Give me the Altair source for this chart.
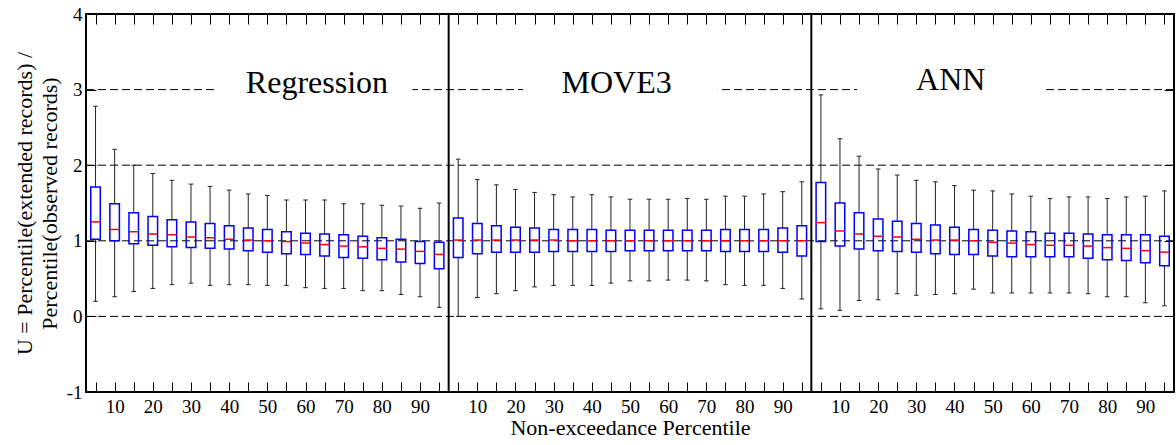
import altair as alt
import pandas as pd

percentiles = [5, 10, 15, 20, 25, 30, 35, 40, 45, 50, 55, 60, 65, 70, 75, 80, 85, 90, 95]
methods = ["Regression", "MOVE3", "ANN"]

# Regression
reg_high = [2.78, 2.21, 2.00, 1.89, 1.80, 1.75, 1.72, 1.67, 1.62, 1.60, 1.54, 1.54, 1.54, 1.49, 1.49, 1.47, 1.46, 1.43, 1.50]
reg_q3 = [1.71, 1.49, 1.37, 1.32, 1.28, 1.25, 1.23, 1.20, 1.17, 1.15, 1.12, 1.10, 1.09, 1.08, 1.06, 1.04, 1.02, 0.99, 0.98]
reg_med = [1.25, 1.15, 1.12, 1.09, 1.08, 1.05, 1.04, 1.02, 1.01, 1.00, 0.99, 0.97, 0.95, 0.93, 0.92, 0.90, 0.89, 0.86, 0.82]
reg_q1 = [1.02, 1.00, 0.96, 0.94, 0.92, 0.91, 0.90, 0.89, 0.87, 0.85, 0.83, 0.82, 0.80, 0.78, 0.77, 0.75, 0.72, 0.70, 0.63]
reg_low = [0.20, 0.26, 0.33, 0.37, 0.42, 0.44, 0.41, 0.42, 0.42, 0.41, 0.41, 0.38, 0.37, 0.37, 0.34, 0.34, 0.29, 0.26, 0.12]

# MOVE3
mov_high = [2.08, 1.81, 1.74, 1.68, 1.64, 1.61, 1.58, 1.61, 1.58, 1.55, 1.55, 1.55, 1.56, 1.55, 1.59, 1.59, 1.62, 1.65, 1.78]
mov_q3 = [1.30, 1.23, 1.20, 1.18, 1.17, 1.15, 1.15, 1.15, 1.14, 1.14, 1.14, 1.14, 1.14, 1.14, 1.15, 1.15, 1.15, 1.17, 1.20]
mov_med = [1.01, 1.01, 1.01, 1.01, 1.01, 1.01, 1.00, 1.00, 1.00, 1.00, 1.00, 1.00, 1.00, 1.00, 1.00, 1.00, 1.00, 1.00, 1.00]
mov_q1 = [0.78, 0.83, 0.85, 0.85, 0.85, 0.86, 0.86, 0.86, 0.86, 0.87, 0.87, 0.87, 0.87, 0.87, 0.86, 0.86, 0.86, 0.85, 0.80]
mov_low = [0.00, 0.25, 0.30, 0.34, 0.39, 0.41, 0.41, 0.41, 0.44, 0.47, 0.47, 0.48, 0.48, 0.47, 0.42, 0.41, 0.41, 0.37, 0.23]

# ANN
ann_high = [2.93, 2.35, 2.12, 1.95, 1.87, 1.80, 1.78, 1.73, 1.67, 1.66, 1.62, 1.59, 1.56, 1.58, 1.58, 1.56, 1.58, 1.59, 1.66]
ann_q3 = [1.77, 1.50, 1.37, 1.29, 1.26, 1.23, 1.21, 1.18, 1.15, 1.14, 1.13, 1.12, 1.10, 1.10, 1.09, 1.08, 1.08, 1.08, 1.06]
ann_med = [1.24, 1.13, 1.09, 1.06, 1.05, 1.02, 1.01, 1.01, 1.00, 0.98, 0.97, 0.95, 0.94, 0.94, 0.93, 0.91, 0.90, 0.87, 0.85]
ann_q1 = [0.99, 0.93, 0.89, 0.87, 0.86, 0.85, 0.83, 0.82, 0.82, 0.80, 0.79, 0.79, 0.79, 0.79, 0.77, 0.75, 0.74, 0.71, 0.67]
ann_low = [0.10, 0.08, 0.21, 0.22, 0.30, 0.28, 0.29, 0.30, 0.36, 0.31, 0.31, 0.31, 0.31, 0.31, 0.30, 0.26, 0.26, 0.18, 0.14]

grid_values = [0, 1, 2, 3]
panel_dividers = [19.5, 38.5]

# panel labels (position in the x index space of the plot, y in data units)
label_x = [12.6, 28.3, 45.8]
label_y = [2.96, 2.96, 3.0]
label_gap_left = [7.4, 23.4, 40.9]
label_gap_right = [17.6, 33.6, 50.8]
label_gap_low = [2.85, 2.85, 2.85]
label_gap_high = [3.2, 3.2, 3.2]

series = [
    (reg_low, reg_q1, reg_med, reg_q3, reg_high),
    (mov_low, mov_q1, mov_med, mov_q3, mov_high),
    (ann_low, ann_q1, ann_med, ann_q3, ann_high),
]
rows = []
for j, (m, (lo, q1, md, q3, hi)) in enumerate(zip(methods, series)):
    for i, p in enumerate(percentiles):
        rows.append(dict(method=m, pct=p, pos=j * 19 + i + 1,
                         low=lo[i], q1=q1[i], med=md[i], q3=q3[i], high=hi[i]))
df = pd.DataFrame(rows)

labels_df = pd.DataFrame(dict(text=methods, x=label_x, y=label_y,
                              gl=label_gap_left, gr=label_gap_right,
                              gb=label_gap_low, gt=label_gap_high))

FONT = "Liberation Serif"
xscale = alt.Scale(domain=[0.5, 57.5], nice=False, zero=False)
yscale = alt.Scale(domain=[-1, 4], nice=False, zero=False)
tick_positions = list(range(1, 58))
lab_expr = ("(((datum.value - 1) % 19 + 1) * 5) % 10 == 0 ? "
            "toString(((datum.value - 1) % 19 + 1) * 5) : ''")

x_bottom = alt.Axis(orient="bottom", values=tick_positions, labelExpr=lab_expr,
                    tickSize=10, offset=-10, domain=False, grid=False,
                    labelFont=FONT, labelFontSize=19, labelColor="black",
                    tickColor="black", tickWidth=1, labelPadding=5,
                    labelOverlap=False, labelFlush=False,
                    title="Non-exceedance Percentile", titleFont=FONT,
                    titleFontSize=22, titleFontWeight="normal", titleColor="black",
                    titlePadding=1)
x_top = alt.Axis(orient="top", values=tick_positions, labels=False, tickSize=10,
                 offset=-10, domain=False, grid=False, tickColor="black", title="")
y_left = alt.Axis(orient="left", values=[-1, 0, 1, 2, 3, 4], tickSize=10, offset=-10,
                  domain=False, grid=False, labelFont=FONT, labelFontSize=19,
                  labelExpr="toString(datum.value)",
                  labelColor="black", tickColor="black", labelPadding=4,
                  title=["U = Percentile(extended records) /", "Percentile(observed records)"],
                  titleFont=FONT, titleFontSize=22, titleFontWeight="normal",
                  titleColor="black", titleLineHeight=25, titlePadding=5)
y_right = alt.Axis(orient="right", values=[-1, 0, 1, 2, 3, 4], labels=False, tickSize=10,
                   offset=-10, domain=False, grid=False, tickColor="black", title="")

base = alt.Chart(df)

grid = alt.Chart(pd.DataFrame(dict(v=grid_values))).mark_rule(
    color="black", strokeWidth=1, strokeDash=[8, 4]
).encode(y=alt.Y("v:Q", scale=yscale, axis=None))

gaps = alt.Chart(labels_df).mark_rect(color="white").encode(
    x=alt.X("gl:Q", scale=xscale, axis=None), x2="gr:Q",
    y=alt.Y("gb:Q", scale=yscale, axis=None), y2="gt:Q"
)

whisk_lo = base.mark_rule(color="#222222", strokeWidth=1).encode(
    x=alt.X("pos:Q", scale=xscale, axis=x_bottom),
    y=alt.Y("low:Q", scale=yscale, axis=y_left), y2="q1:Q"
)
whisk_hi = base.mark_rule(color="#222222", strokeWidth=1).encode(
    x=alt.X("pos:Q", scale=xscale, axis=x_top),
    y=alt.Y("q3:Q", scale=yscale, axis=y_right), y2="high:Q"
)
caps_lo = base.transform_calculate(cl="datum.pos - 0.12", cr="datum.pos + 0.12").mark_rule(
    color="#222222", strokeWidth=1).encode(
    x=alt.X("cl:Q", scale=xscale, axis=None), x2="cr:Q",
    y=alt.Y("low:Q", scale=yscale, axis=None)
)
caps_hi = base.transform_calculate(cl="datum.pos - 0.12", cr="datum.pos + 0.12").mark_rule(
    color="#222222", strokeWidth=1).encode(
    x=alt.X("cl:Q", scale=xscale, axis=None), x2="cr:Q",
    y=alt.Y("high:Q", scale=yscale, axis=None)
)
boxes = base.transform_calculate(bl="datum.pos - 0.25", br="datum.pos + 0.25").mark_rect(
    fillOpacity=0, stroke="#0000ff", strokeWidth=1.5).encode(
    x=alt.X("bl:Q", scale=xscale, axis=None), x2="br:Q",
    y=alt.Y("q1:Q", scale=yscale, axis=None), y2="q3:Q"
)
medians = base.transform_calculate(bl="datum.pos - 0.25", br="datum.pos + 0.25").mark_rule(
    color="#ff0000", strokeWidth=1.5).encode(
    x=alt.X("bl:Q", scale=xscale, axis=None), x2="br:Q",
    y=alt.Y("med:Q", scale=yscale, axis=None)
)
dividers = alt.Chart(pd.DataFrame(dict(d=panel_dividers))).mark_rule(
    color="black", strokeWidth=2).encode(x=alt.X("d:Q", scale=xscale, axis=None))

titles = alt.Chart(labels_df).mark_text(
    font=FONT, fontSize=32, color="black", align="center", baseline="alphabetic"
).encode(
    x=alt.X("x:Q", scale=xscale, axis=None),
    y=alt.Y("y:Q", scale=yscale, axis=None),
    text="text:N"
)

chart = alt.layer(
    grid, gaps, whisk_lo, whisk_hi, caps_lo, caps_hi, boxes, medians, dividers, titles
).resolve_axis(x="independent", y="independent").properties(
    width=1088, height=378,
    autosize=alt.AutoSizeParams(type="none"),
    padding={"left": 86, "top": 14, "right": 2, "bottom": 53},
    background="white",
).configure_view(stroke="black", strokeWidth=2)

chart.save("out.html", embed_options={"renderer": "svg", "actions": False})
